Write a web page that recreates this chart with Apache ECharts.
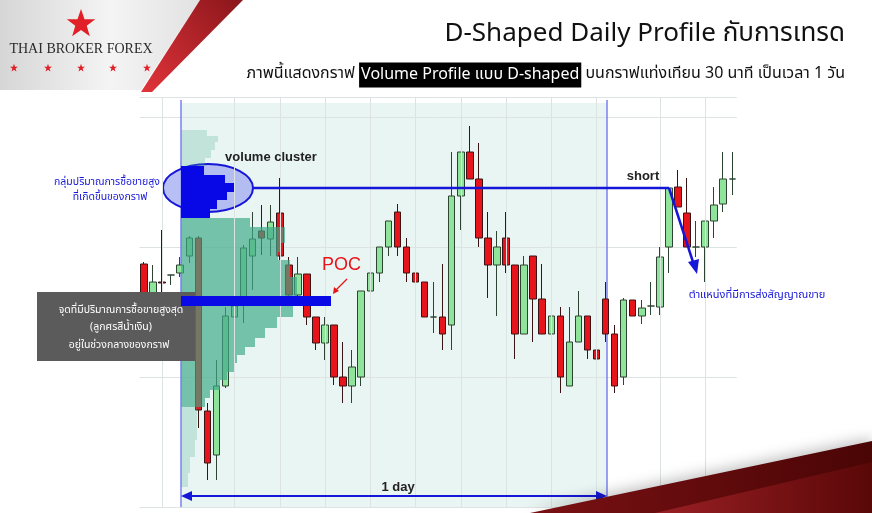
<!DOCTYPE html>
<html><head><meta charset="utf-8">
<script src="https://cdn.jsdelivr.net/npm/echarts@6/dist/echarts.min.js"></script>
<style>html,body{margin:0;padding:0;background:#fff}#c{width:872px;height:513px}</style>
</head><body><div id="c"></div>
<script>
// ---- candle data (30-minute bars, price in chart units) ----
const categories = ['1','2','3','4','5','6','7','8','9','10','11','12','13','14','15','16','17','18','19','20','21','22','23','24','25','26','27','28','29','30','31','32','33','34','35','36','37','38','39','40','41','42','43','44','45','46','47','48','49','50','51','52','53','54','55','56','57','58','59','60','61','62','63','64','65','66'];
const opens  = [243,209,225,232,234,251,269,96,52,121,190,207,251,276,268,294,242,212,233,190,164,182,130,121,130,216,234,260,295,260,234,225,190,190,182,311,355,328,269,242,269,242,173,251,208,173,191,121,165,191,157,208,173,130,207,191,201,200,260,320,294,260,260,286,303,328];
const closes = [214,225,224,232,242,269,97,44,121,191,201,259,268,269,285,251,212,233,190,164,182,130,121,140,216,234,260,286,260,234,225,190,190,173,311,355,328,269,242,260,242,173,242,208,173,191,130,165,191,157,148,173,121,207,191,199,201,250,319,300,260,260,286,302,328,328];
const lows   = [209,202,215,222,230,244,79,27,27,119,157,184,217,252,251,247,210,210,182,157,147,122,104,104,121,200,225,251,251,225,216,190,174,157,157,277,328,260,209,191,234,148,173,165,173,173,114,121,165,148,140,165,114,122,191,183,192,192,234,300,260,250,225,269,295,312];
const highs  = [245,242,277,232,250,271,271,104,147,200,217,262,295,302,302,329,250,250,233,190,190,182,165,157,216,234,260,286,303,269,251,225,225,243,355,355,381,364,295,276,295,242,251,251,243,216,200,200,216,191,182,225,182,209,207,207,225,260,319,337,329,286,286,320,355,355];
const vGridBars = [2,10,15,20,25,30,35,40,45,50,57,62];
const priceTicks = [0,130,260,390];

// ---- volume profile (price high, price low, volume) ----
const lightHi  = [377,371,365,357,349, 100,67,50,34];
const lightLo  = [371,365,357,349,341, 67,50,34,20];
const lightVol = [26,37,34,30,24, 16,14,9,7];
const profHi  = [289,280,264,255,247,230,201,190,179,169,160,152,144,135,127,117,109];
const profLo  = [280,264,255,247,230,211,190,179,169,160,152,144,135,127,117,109,100];
const profVol = [69,104,99,97,109,116,112,96,84,74,64,56,54,46,39,29,24];
const clusterHi  = [341,332,324,315,307,298];
const clusterLo  = [332,324,315,307,298,289];
const clusterVol = [23,44,53,46,36,29];
const pocHi = [211], pocLo = [201], pocVol = [150];

const candleData = opens.map((o,i)=>[o, closes[i], lows[i], highs[i]]);
function rows(hi, lo, vol){ return hi.map((h,i)=>[vol[i], h, lo[i]]); }

function profileSeries(data, fill, z){
  return {
    type:'custom', xAxisIndex:1, yAxisIndex:1, z:z, silent:true,
    data:data,
    renderItem:function(params, api){
      const p1 = api.coord([0, api.value(1)]);
      const p2 = api.coord([api.value(0), api.value(2)]);
      return {type:'rect', shape:{x:p1[0], y:p1[1], width:p2[0]-p1[0], height:p2[1]-p1[1]}, style:{fill:fill}};
    }
  };
}

function starPts(cx, cy, R){
  const pts=[];
  for(let k=0;k<10;k++){ const r = k%2 ? R*0.4 : R; const a = -Math.PI/2 + k*Math.PI/5; pts.push([cx + r*Math.cos(a), cy + r*Math.sin(a)]); }
  return pts;
}
const smallStarX = [14,48,81,113,147];

const chart = echarts.init(document.getElementById('c'));
const thai = '"Noto Sans Thai","Noto Sans Thai UI","Loma","Garuda","Tlwg Typo","Noto Sans",sans-serif';
const blue = '#1616d8';

const graphics = [
  // logo
  {type:'polygon', z:0, shape:{points:[[0,0],[200,0],[141,90],[0,90]]},
   style:{fill:{type:'linear',x:0,y:0,x2:1,y2:0,colorStops:[{offset:0,color:'#d6d6d6'},{offset:0.55,color:'#f4f4f4'},{offset:1,color:'#e2e2e2'}]}}},
  {type:'polygon', z:0, shape:{points:[[200,0],[243,0],[152,92],[141,92]]},
   style:{fill:{type:'linear',x:1,y:0,x2:0,y2:1,colorStops:[{offset:0,color:'#8a161b'},{offset:1,color:'#e0343a'}]}}},
  {type:'polygon', z:0, shape:{points:starPts(81,24,15)}, style:{fill:'#e01f26'}},
  ...smallStarX.map(x=>({type:'polygon', z:0, shape:{points:starPts(x,68,4.2)}, style:{fill:'#e01f26'}})),
  {type:'text', z:0, style:{text:'THAI BROKER FOREX', x:81, y:49, textAlign:'center', textVerticalAlign:'middle', font:'14px "Liberation Serif", serif', fill:'#2a2a2a'}},
  // titles
  {type:'text', z:0, style:{text:'D-Shaped Daily Profile กับการเทรด', x:845, y:36, textAlign:'right', textVerticalAlign:'middle', font:'26px '+thai, fill:'#111'}},
  {type:'text', z:0, style:{
    text:'{a|ภาพนี้แสดงกราฟ }{b|Volume Profile แบบ D-shaped}{a| บนกราฟแท่งเทียน 30 นาที เป็นเวลา 1 วัน}',
    x:845, y:75, textAlign:'right', textVerticalAlign:'middle',
    rich:{a:{font:'16px '+thai, fill:'#111'}, b:{font:'16px '+thai, fill:'#fff', backgroundColor:'#000', padding:[5,2,4,2]}}}},
  // chart background (day region)
  {type:'rect', z:-1, shape:{x:181, y:103, width:426, height:404}, style:{fill:'#e9f5f2'}},
  {type:'line', z:1, shape:{x1:181,y1:100,x2:181,y2:507}, style:{stroke:'#7b80f0', lineWidth:1.5}},
  {type:'line', z:1, shape:{x1:607,y1:100,x2:607,y2:507}, style:{stroke:'#7b80f0', lineWidth:1.5}},
  // ellipse around cluster
  {type:'ellipse', z:3, shape:{cx:208, cy:188, rx:45, ry:24}, style:{fill:'rgba(160,170,240,0.75)', stroke:blue, lineWidth:2}},
  // cluster line + short arrow
  {type:'line', z:6, shape:{x1:253,y1:188,x2:669,y2:188}, style:{stroke:blue, lineWidth:2.5}},
  {type:'line', z:6, shape:{x1:669,y1:188,x2:693,y2:262}, style:{stroke:blue, lineWidth:2.5}},
  {type:'polygon', z:6, shape:{points:[[697,274],[699,259],[688,262]]}, style:{fill:blue}},
  // texts
  {type:'text', z:10, style:{text:'volume cluster', x:271, y:157, textAlign:'center', textVerticalAlign:'middle', font:'bold 13px "Liberation Sans", Arial, sans-serif', fill:'#222'}},
  {type:'text', z:10, style:{text:'กลุ่มปริมาณการซื้อขายสูง', x:107, y:183, textAlign:'center', textVerticalAlign:'middle', font:'10.5px '+thai, fill:blue}},
  {type:'text', z:10, style:{text:'ที่เกิดขึ้นของกราฟ', x:110, y:198, textAlign:'center', textVerticalAlign:'middle', font:'10.5px '+thai, fill:blue}},
  {type:'rect', z:10, shape:{x:37, y:292, width:158, height:69}, style:{fill:'#5b5b5b'}},
  {type:'text', z:11, style:{text:'จุดที่มีปริมาณการซื้อขายสูงสุด', x:121, y:311, textAlign:'center', textVerticalAlign:'middle', font:'10.5px '+thai, fill:'#fff'}},
  {type:'text', z:11, style:{text:'(ลูกศรสีน้ำเงิน)', x:121, y:328, textAlign:'center', textVerticalAlign:'middle', font:'10.5px '+thai, fill:'#fff'}},
  {type:'text', z:11, style:{text:'อยู่ในช่วงกลางของกราฟ', x:119, y:346, textAlign:'center', textVerticalAlign:'middle', font:'10.5px '+thai, fill:'#fff'}},
  {type:'text', z:10, style:{text:'POC', x:322, y:265, textAlign:'left', textVerticalAlign:'middle', font:'18px "Liberation Sans", Arial, sans-serif', fill:'#e8141b'}},
  {type:'line', z:10, shape:{x1:347,y1:279,x2:336,y2:290}, style:{stroke:'#e8141b', lineWidth:1.2}},
  {type:'polygon', z:10, shape:{points:[[333,294],[334,287],[339,291]]}, style:{fill:'#e8141b'}},
  {type:'text', z:10, style:{text:'short', x:643, y:176, textAlign:'center', textVerticalAlign:'middle', font:'bold 13px "Liberation Sans", Arial, sans-serif', fill:'#222'}},
  {type:'text', z:10, style:{text:'ตำแหน่งที่มีการส่งสัญญาณขาย', x:757, y:296, textAlign:'center', textVerticalAlign:'middle', font:'11px '+thai, fill:blue}},
  {type:'text', z:10, style:{text:'1 day', x:398, y:487, textAlign:'center', textVerticalAlign:'middle', font:'bold 13px "Liberation Sans", Arial, sans-serif', fill:'#222'}},
  {type:'line', z:10, shape:{x1:186,y1:496,x2:602,y2:496}, style:{stroke:blue, lineWidth:2}},
  {type:'polygon', z:10, shape:{points:[[181,496],[192,491],[192,501]]}, style:{fill:blue}},
  {type:'polygon', z:10, shape:{points:[[607,496],[596,491],[596,501]]}, style:{fill:blue}},
  // bottom-right decoration
  {type:'polygon', z:12, shape:{points:[[530,513],[872,441],[872,513]]},
   style:{fill:{type:'linear',x:0,y:0,x2:1,y2:0,colorStops:[{offset:0,color:'#7a1114'},{offset:1,color:'#4a0505'}]}, shadowBlur:14, shadowColor:'rgba(0,0,0,0.25)', shadowOffsetY:-3}},
  {type:'polygon', z:12, shape:{points:[[655,513],[872,462],[872,513]]},
   style:{fill:{type:'linear',x:0,y:0,x2:1,y2:0,colorStops:[{offset:0,color:'#9a2024'},{offset:1,color:'#5a0708'}]}}}
];

const option = {
  animation:false,
  backgroundColor:'#fff',
  grid:[
    {left:139.5, top:97, width:597.3, height:410, containLabel:false},
    {left:181, top:97, width:600, height:410, containLabel:false}
  ],
  xAxis:[
    {type:'category', data:categories, gridIndex:0, boundaryGap:true, show:true,
     axisLine:{show:false}, axisTick:{show:false}, axisLabel:{show:false}, splitLine:{show:false}},
    {type:'value', gridIndex:1, min:0, max:600, show:false}
  ],
  yAxis:[
    {type:'value', gridIndex:0, min:0, max:410, interval:130, show:true,
     axisLine:{show:false}, axisTick:{show:false}, axisLabel:{show:false},
     splitLine:{show:true, lineStyle:{color:'#dde3e3', width:1}}},
    {type:'value', gridIndex:1, min:0, max:410, show:false}
  ],
  series:[
    {type:'candlestick', xAxisIndex:0, yAxisIndex:0, z:2, barWidth:7, data:candleData,
     itemStyle:{color:'#8fe39b', color0:'#e8141b', borderColor:'#2c4431', borderColor0:'#3a1414', borderWidth:1},
     markLine:{silent:true, symbol:['none','none'], label:{show:false},
       lineStyle:{color:'#dde3e3', width:1, type:'solid'},
       data:vGridBars.map(i=>({xAxis:i}))}},
    profileSeries(rows(lightHi, lightLo, lightVol), 'rgba(80,175,145,0.25)', 3),
    profileSeries(rows(profHi, profLo, profVol), 'rgba(62,170,135,0.68)', 3),
    profileSeries(rows(clusterHi, clusterLo, clusterVol), '#0808e6', 4),
    profileSeries(rows(pocHi, pocLo, pocVol), '#0a0ae6', 11)
  ],
  graphic:{elements:graphics}
};
chart.setOption(option);
</script>
</body></html>
